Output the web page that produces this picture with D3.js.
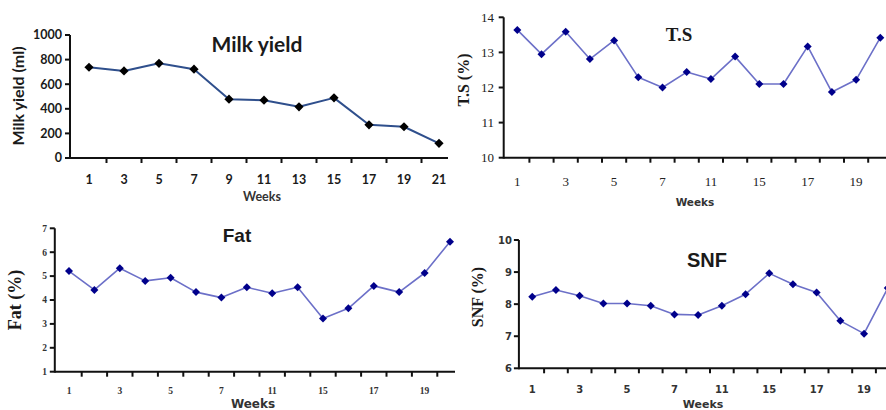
<!DOCTYPE html>
<html>
<head>
<meta charset="utf-8">
<script src="https://cdn.jsdelivr.net/npm/d3@7"></script>
<style>
  body { margin: 0; background: #fff; }
  svg { display: block; }
</style>
</head>
<body>
<div id="chart"></div>
<script>
// Data
const milkWeeks = ["1", "3", "5", "7", "9", "11", "13", "15", "17", "19", "21"];
const milkYield = [738, 708, 770, 722, 478, 470, 416, 489, 270, 254, 119];
const milkYTicks = [0, 200, 400, 600, 800, 1000];

// the other three panels have 16 points, only every other one labelled
const weekLabels = ["1", "", "3", "", "5", "", "7", "", "11", "", "15", "", "17", "", "19", ""];

const tsValues = [13.64, 12.95, 13.59, 12.81, 13.34, 12.29, 12.0, 12.44, 12.24, 12.88, 12.1, 12.1, 13.17, 11.87, 12.22, 13.42];
const tsYTicks = [10, 11, 12, 13, 14];

const fatValues = [5.21, 4.42, 5.33, 4.80, 4.93, 4.33, 4.10, 4.53, 4.28, 4.53, 3.23, 3.65, 4.59, 4.33, 5.13, 6.44];
const fatYTicks = [1, 2, 3, 4, 5, 6, 7];

const snfValues = [8.23, 8.44, 8.26, 8.02, 8.02, 7.95, 7.68, 7.66, 7.95, 8.31, 8.96, 8.62, 8.36, 7.48, 7.08, 8.5];
const snfYTicks = [6, 7, 8, 9, 10];

const width = 886, height = 410;

const svg = d3.select("#chart")
  .append("svg")
    .attr("width", width)
    .attr("height", height)
    .attr("viewBox", [0, 0, width, height]);

const panels = [
  {
    id: "milk", labels: milkWeeks, values: milkYield, yTicks: milkYTicks, yDomain: [0, 1000],
    clip: {x: 0, y: 0, w: 448, h: 214},
    xStart: 71.5, step: 35, yRange: [158, 35],
    line: "#2f4f8c", lineWidth: 2, marker: "#000", markerSize: 4.6,
    tickFont: "bold 12.5px Lato", tickFill: "#1a1a1a",
    title: "Milk yield", titleFont: "bold 21px Lato", titleX: 257, titleY: 52,
    yLabel: "Milk yield (ml)", yLabelFont: "bold 16px Lato", yLabelX: 24, yLabelY: 96,
    weeksX: 262, weeksY: 201, weeksFont: "bold 12.5px Lato", xLabelY: 180, yLabelRight: 62
  },
  {
    id: "ts", labels: weekLabels, values: tsValues, yTicks: tsYTicks, yDomain: [10, 14],
    clip: {x: 450, y: 0, w: 436, h: 215},
    xStart: 505.2, step: 24.2, yRange: [157.7, 17.3],
    line: "#6c70c8", lineWidth: 1.6, marker: "#00008b", markerSize: 4,
    tickFont: "13px 'Liberation Serif'", tickFill: "#222",
    title: "T.S", titleFont: "bold 19px 'Liberation Serif'", titleX: 679, titleY: 41,
    yLabel: "T.S (%)", yLabelFont: "bold 16px 'Liberation Serif'", yLabelX: 469, yLabelY: 80,
    weeksX: 695, weeksY: 206, weeksFont: "bold 10.5px 'DejaVu Sans'", xLabelY: 181, yLabelRight: 494
  },
  {
    id: "fat", labels: weekLabels, values: fatValues, yTicks: fatYTicks, yDomain: [1, 7],
    clip: {x: 0, y: 215, w: 455, h: 195},
    xStart: 56.3, step: 25.4, yRange: [371.7, 228.3],
    line: "#6c70c8", lineWidth: 1.6, marker: "#00008b", markerSize: 4,
    tickFont: "bold 9.5px 'Liberation Serif'", tickFill: "#333",
    title: "Fat", titleFont: "bold 19px 'Liberation Sans'", titleX: 237, titleY: 242,
    yLabel: "Fat (%)", yLabelFont: "bold 18px 'Liberation Serif'", yLabelX: 21, yLabelY: 300,
    weeksX: 253, weeksY: 408, weeksFont: "bold 12px 'DejaVu Sans'", xLabelY: 391, yLabelRight: 47
  },
  {
    id: "snf", labels: weekLabels, values: snfValues, yTicks: snfYTicks, yDomain: [6, 10],
    clip: {x: 455, y: 225, w: 431, h: 185},
    xStart: 520.4, step: 23.7, yRange: [368.3, 240],
    line: "#6c70c8", lineWidth: 1.6, marker: "#00008b", markerSize: 4,
    tickFont: "bold 10px 'DejaVu Sans'", tickFill: "#333",
    title: "SNF", titleFont: "bold 20px 'Liberation Sans'", titleX: 707, titleY: 267,
    yLabel: "SNF (%)", yLabelFont: "bold 16px 'Liberation Serif'", yLabelX: 483, yLabelY: 297,
    weeksX: 703, weeksY: 408, weeksFont: "bold 11px 'DejaVu Sans'", xLabelY: 389, yLabelRight: 512
  }
];

const drawPanel = (p) => {
  svg.append("clipPath")
      .attr("id", "clip-" + p.id)
    .append("rect")
      .attr("x", p.clip.x).attr("y", p.clip.y)
      .attr("width", p.clip.w).attr("height", p.clip.h);

  const g = svg.append("g")
    .attr("clip-path", `url(#clip-${p.id})`);

  g.append("rect")
    .attr("x", p.clip.x).attr("y", p.clip.y)
    .attr("width", p.clip.w).attr("height", p.clip.h)
    .attr("fill", "#fff");

  const idx = d3.range(p.values.length);

  const xScale = d3.scaleBand()
    .domain(idx)
    .range([p.xStart, p.xStart + p.step * idx.length]);

  const yScale = d3.scaleLinear()
    .domain(p.yDomain)
    .range(p.yRange);

  const cx = i => xScale(i) + xScale.bandwidth() / 2;

  // axes
  const y0 = yScale(p.yDomain[0]);
  const axisX = p.xStart - 1.5;

  g.append("line")
    .attr("x1", axisX).attr("x2", p.xStart + p.step * idx.length)
    .attr("y1", y0).attr("y2", y0)
    .attr("stroke", "#111").attr("stroke-width", 2);

  g.append("line")
    .attr("x1", axisX).attr("x2", axisX)
    .attr("y1", y0 + 1).attr("y2", yScale(p.yDomain[1]))
    .attr("stroke", "#111").attr("stroke-width", 2);

  // x tick marks at the band edges
  g.append("g")
    .selectAll("line")
    .data(idx.slice(1).concat([idx.length]))
    .join("line")
      .attr("x1", i => i < idx.length ? xScale(i) : xScale.range()[1])
      .attr("x2", i => i < idx.length ? xScale(i) : xScale.range()[1])
      .attr("y1", y0).attr("y2", y0 + 5)
      .attr("stroke", "#111").attr("stroke-width", 2);

  // y tick marks
  g.append("g")
    .selectAll("line")
    .data(p.yTicks)
    .join("line")
      .attr("x1", axisX - 5).attr("x2", axisX)
      .attr("y1", d => yScale(d)).attr("y2", d => yScale(d))
      .attr("stroke", "#111").attr("stroke-width", 2);

  g.append("g")
    .selectAll("text")
    .data(p.yTicks)
    .join("text")
      .attr("x", p.yLabelRight)
      .attr("y", d => yScale(d))
      .attr("dy", "0.35em")
      .attr("text-anchor", "end")
      .style("font", p.tickFont)
      .attr("fill", p.tickFill)
      .text(d => d);

  g.append("g")
    .selectAll("text")
    .data(idx)
    .join("text")
      .attr("x", cx)
      .attr("y", p.xLabelY)
      .attr("dy", "0.35em")
      .attr("text-anchor", "middle")
      .style("font", p.tickFont)
      .attr("fill", p.tickFill)
      .text(i => p.labels[i]);

  // line and diamond markers
  const line = d3.line()
    .x(i => cx(i))
    .y(i => yScale(p.values[i]));

  g.append("path")
    .datum(idx)
    .attr("d", line)
    .attr("fill", "none")
    .attr("stroke", p.line)
    .attr("stroke-width", p.lineWidth)
    .attr("stroke-linejoin", "round");

  const s = p.markerSize;
  g.append("g")
    .selectAll("path")
    .data(idx)
    .join("path")
      .attr("transform", i => `translate(${cx(i)},${yScale(p.values[i])})`)
      .attr("d", `M0,${-s}L${s},0L0,${s}L${-s},0Z`)
      .attr("fill", p.marker);

  // texts
  g.append("text")
    .attr("x", p.titleX).attr("y", p.titleY)
    .attr("text-anchor", "middle")
    .style("font", p.titleFont)
    .attr("fill", "#1a1a1a")
    .text(p.title);

  g.append("text")
    .attr("transform", `translate(${p.yLabelX},${p.yLabelY}) rotate(-90)`)
    .attr("text-anchor", "middle")
    .style("font", p.yLabelFont)
    .attr("fill", "#1a1a1a")
    .text(p.yLabel);

  g.append("text")
    .attr("x", p.weeksX).attr("y", p.weeksY)
    .attr("text-anchor", "middle")
    .style("font", p.weeksFont)
    .attr("fill", "#333")
    .text("Weeks");
}

panels.forEach(drawPanel);
</script>
</body>
</html>
